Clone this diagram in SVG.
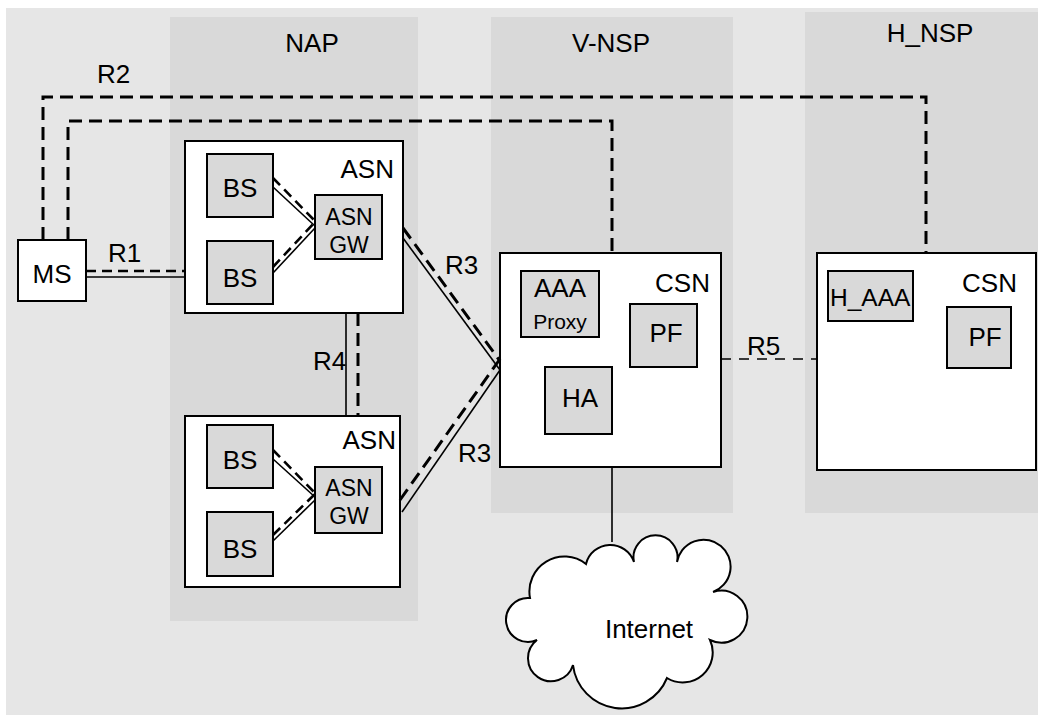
<svg xmlns="http://www.w3.org/2000/svg" width="1038" height="715" viewBox="0 0 1038 715">
<style>
text{font-family:"Liberation Sans",Arial,sans-serif;font-size:26px;fill:#000}
.c{text-anchor:middle}
.e{text-anchor:end}
.box{fill:#fff;stroke:#000;stroke-width:2}
.inner{fill:#d9d9d9;stroke:#000;stroke-width:2}
.col{fill:#d9d9d9}
.sol{fill:none;stroke:#000;stroke-width:1.6}
.dsh{fill:none;stroke:#000;stroke-width:3;stroke-dasharray:13 7}
.dsm{fill:none;stroke:#000;stroke-width:2.6;stroke-dasharray:10 6}
.dth{fill:none;stroke:#000;stroke-width:1.6;stroke-dasharray:10 8}
.sm{font-size:23px}
</style>
<rect x="6" y="8" width="1032" height="707" fill="#e6e6e6"/>
<g id="NAP"><rect class="col" x="170" y="17" width="248" height="604"/><text class="c" x="312" y="52">NAP</text></g>
<g id="V-NSP"><rect class="col" x="491" y="17" width="242" height="496"/><text class="c" x="611" y="52">V-NSP</text></g>
<g id="H_NSP"><rect class="col" x="805" y="12" width="233" height="501"/><text class="c" x="930" y="42">H_NSP</text></g>

<g id="MS"><rect class="box" x="18" y="240" width="68" height="61"/><text class="c" x="52" y="283">MS</text></g>

<g id="ASN1">
<rect class="box" x="185" y="141" width="218" height="172"/>
<text class="e" x="394" y="178">ASN</text>
<g id="BS1"><rect class="inner" x="207" y="154" width="66" height="63"/><text class="c" x="240" y="197">BS</text></g>
<g id="BS2"><rect class="inner" x="207" y="241" width="66" height="63"/><text class="c" x="240" y="287">BS</text></g>
<g id="GW1"><rect class="inner" x="315" y="195" width="67" height="64"/><text class="c sm" x="349" y="225">ASN</text><text class="c sm" x="349" y="253">GW</text></g>
</g>

<g id="ASN2">
<rect class="box" x="185" y="416" width="215" height="171"/>
<text class="e" x="396" y="449">ASN</text>
<g id="BS3"><rect class="inner" x="207" y="425" width="66" height="63"/><text class="c" x="240" y="469">BS</text></g>
<g id="BS4"><rect class="inner" x="207" y="512" width="66" height="64"/><text class="c" x="240" y="558">BS</text></g>
<g id="GW2"><rect class="inner" x="315" y="467" width="67" height="66"/><text class="c sm" x="349" y="496">ASN</text><text class="c sm" x="349" y="524">GW</text></g>
</g>

<g id="CSN1">
<rect class="box" x="500" y="253" width="221" height="214"/>
<text class="e" x="710" y="292">CSN</text>
<g id="AAA"><rect class="inner" x="521" y="271" width="78" height="66"/><text class="c" x="560" y="297">AAA</text><text class="c" x="560" y="329" style="font-size:21px">Proxy</text></g>
<g id="PF1"><rect class="inner" x="630" y="304" width="67" height="63"/><text class="c" x="666" y="342">PF</text></g>
<g id="HA"><rect class="inner" x="545" y="367" width="67" height="67"/><text class="c" x="580" y="407">HA</text></g>
</g>

<g id="CSN2">
<rect class="box" x="817" y="253" width="219" height="217"/>
<text class="e" x="1017" y="292">CSN</text>
<g id="H_AAA"><rect class="inner" x="828" y="271" width="85" height="50"/><text x="830" y="306" style="font-size:24.5px">H_AAA</text></g>
<g id="PF2"><rect class="inner" x="947" y="307" width="64" height="61"/><text class="c" x="985" y="346">PF</text></g>
</g>

<g id="Internet">
<path fill="#fff" stroke="#000" stroke-width="2" d="M586,564 A25,25 0 0 1 634,562 A22,22 0 1 1 677,562 A27,27 0 1 1 713,592 A26,26 0 1 1 710,640 A30,30 0 0 1 667,678 A49,49 0 0 1 573,665 A23,23 0 1 1 537,640 A22,22 0 1 1 530,598 A35,35 0 0 1 586,564 Z"/>
<text class="c" x="649" y="638">Internet</text>
</g>

<g id="connectors">
<polyline class="dsh" points="43,240 43,97 926,97 926,253"/>
<polyline class="dsh" points="68,240 68,121 612,121 612,253"/>
<line class="sol" x1="86" y1="277" x2="185" y2="277"/>
<line class="dsm" x1="86" y1="271" x2="185" y2="271"/>
<line class="sol" x1="273" y1="187" x2="315" y2="226"/>
<line class="dsm" x1="273" y1="178" x2="315" y2="221"/>
<line class="sol" x1="273" y1="273" x2="315" y2="228"/>
<line class="dsm" x1="273" y1="267" x2="315" y2="222"/>
<line class="sol" x1="273" y1="459" x2="315" y2="497"/>
<line class="dsm" x1="273" y1="450" x2="315" y2="493"/>
<line class="sol" x1="273" y1="541" x2="315" y2="500"/>
<line class="dsm" x1="273" y1="535" x2="315" y2="494"/>
<line class="sol" x1="346" y1="313" x2="346" y2="416"/>
<line class="dsh" x1="358" y1="313" x2="358" y2="416"/>
<line class="sol" x1="403" y1="238" x2="500" y2="370"/>
<line class="dsh" x1="403" y1="228" x2="500" y2="361"/>
<line class="sol" x1="402" y1="512" x2="500" y2="370"/>
<line class="dsh" x1="400" y1="500" x2="500" y2="359"/>
<line class="dth" x1="721" y1="359" x2="817" y2="359"/>
<line class="sol" x1="612" y1="467" x2="612" y2="542"/>
<text x="97" y="83">R2</text>
<text x="108" y="262">R1</text>
<text x="313" y="370">R4</text>
<text x="445" y="274">R3</text>
<text x="458" y="462">R3</text>
<text x="747" y="355">R5</text>
</g>
</svg>
